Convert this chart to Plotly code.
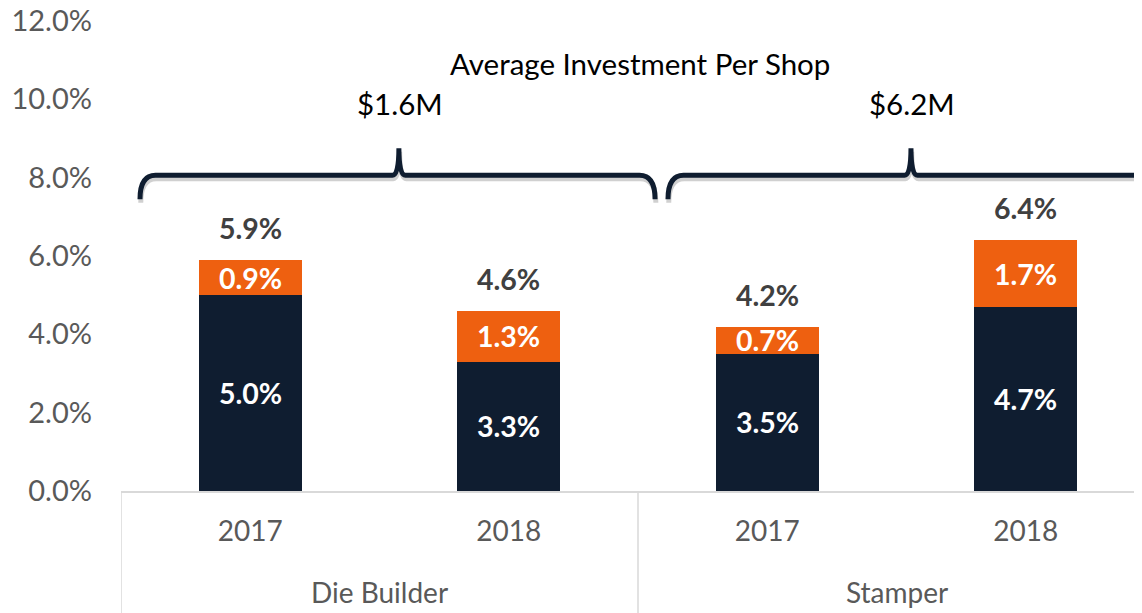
import plotly.graph_objects as go

# ---- data ----
groups = ["Die Builder", "Die Builder", "Stamper", "Stamper"]
years = ["2017", "2018", "2017", "2018"]
base_vals = [0.050, 0.033, 0.035, 0.047]
extra_vals = [0.009, 0.013, 0.007, 0.017]
totals = [0.059, 0.046, 0.042, 0.064]
group_names = ["Die Builder", "Stamper"]
group_invest = ["$1.6M", "$6.2M"]
y_ticks = [0, 0.02, 0.04, 0.06, 0.08, 0.10, 0.12]

NAVY = "#0f1d30"
ORANGE = "#ee6010"
FONT = "Lato"

xs = list(range(len(years)))

fig = go.Figure()
fig.add_trace(go.Bar(x=xs, y=base_vals, width=0.40, marker=dict(color=NAVY, line=dict(width=0)),
                     hoverinfo="skip", showlegend=False))
fig.add_trace(go.Bar(x=xs, y=extra_vals, width=0.40, marker=dict(color=ORANGE, line=dict(width=0)),
                     hoverinfo="skip", showlegend=False))

ann = []
for i in xs:
    ann.append(dict(x=i, y=base_vals[i] / 2, xref="x", yref="y", text=f"<b>{base_vals[i]*100:.1f}%</b>",
                    showarrow=False, font=dict(family=FONT, size=28.5, color="white")))
    ann.append(dict(x=i, y=base_vals[i] + extra_vals[i] / 2, xref="x", yref="y",
                    text=f"<b>{extra_vals[i]*100:.1f}%</b>",
                    showarrow=False, font=dict(family=FONT, size=28.5, color="white")))
    ann.append(dict(x=i, y=totals[i], xref="x", yref="y", text=f"<b>{totals[i]*100:.1f}%</b>",
                    showarrow=False, yanchor="bottom", yshift=13,
                    font=dict(family=FONT, size=28.5, color="#404040")))

# group labels under axis
for g, name in enumerate(group_names):
    ann.append(dict(x=2 * g + 0.5, y=-0.215, xref="x", yref="paper", text=name, showarrow=False,
                    yanchor="middle", font=dict(family=FONT, size=28, color="#595959")))

# brace text
ann.append(dict(x=1.508, y=0.1092, xref="x", yref="y", text="Average Investment Per Shop", showarrow=False,
                font=dict(family=FONT, size=29.5, color="#000000")))
brace_peaks = [0.575, 2.556]
for g, txt in enumerate(group_invest):
    ann.append(dict(x=brace_peaks[g] + 0.005, y=0.099, xref="x", yref="y", text=txt, showarrow=False,
                    font=dict(family=FONT, size=29.5, color="#000000")))

shapes = []
# separators in category axis
for xv in [-0.5, 1.5, 3.5]:
    shapes.append(dict(type="line", xref="x", yref="paper", x0=xv, x1=xv, y0=0, y1=-0.27,
                       line=dict(color="#d9d9d9", width=1.5)))


def brace(x0, xp, x1, yb, yh, ypk, dy=0.0, dx=0.0):
    r = 0.06
    rp = 0.025
    return (f"M {x0+dx},{yb+dy} Q {x0+dx},{yh+dy} {x0+r+dx},{yh+dy} "
            f"L {xp-rp+dx},{yh+dy} Q {xp+dx},{yh+dy} {xp+dx},{ypk+dy} "
            f"Q {xp+dx},{yh+dy} {xp+rp+dx},{yh+dy} "
            f"L {x1-r+dx},{yh+dy} Q {x1+dx},{yh+dy} {x1+dx},{yb+dy}")


braces = [(-0.4265, 0.575, 1.566), (1.616, 2.556, 3.546)]
for (a, p, b) in braces:
    shapes.append(dict(type="path", xref="x", yref="y",
                       path=brace(a, p, b, 0.0745, 0.0806, 0.0875, dy=-0.0009, dx=0.003),
                       line=dict(color="rgba(150,150,150,0.45)", width=5)))
for (a, p, b) in braces:
    shapes.append(dict(type="path", xref="x", yref="y",
                       path=brace(a, p, b, 0.0745, 0.0806, 0.0875),
                       line=dict(color=NAVY, width=5)))

# page body has an 8px margin, so the figure is sized to fit the 1142x613 window
fig.update_layout(
    width=1134, height=605,
    margin=dict(l=113, r=0, t=13, b=122, autoexpand=False),
    barmode="stack",
    plot_bgcolor="white", paper_bgcolor="white",
    annotations=ann, shapes=shapes,
    font=dict(family=FONT, size=28, color="#595959"),
    xaxis=dict(range=[-0.5, 3.4497], tickvals=xs, ticktext=years, showgrid=False, zeroline=False,
               showline=True, linecolor="#d9d9d9", linewidth=1.5, ticks="",
               ticklabelstandoff=15, automargin=False, ticklabeloverflow="allow",
               tickfont=dict(family=FONT, size=28, color="#595959"), fixedrange=True),
    yaxis=dict(range=[0, 0.12], tickvals=y_ticks, tickformat=".1%", showgrid=False, zeroline=False,
               showline=False, ticks="", ticklabelstandoff=28, automargin=False,
               ticklabeloverflow="allow",
               tickfont=dict(family=FONT, size=29, color="#595959"), fixedrange=True),
)

fig.write_html("out.html")
